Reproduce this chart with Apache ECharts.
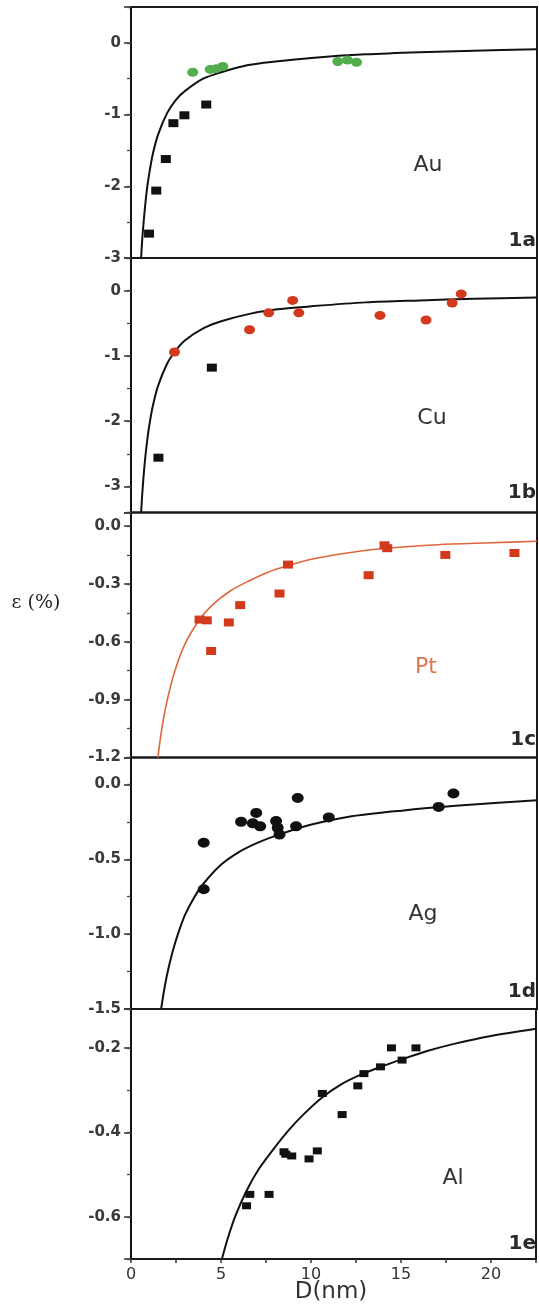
<!DOCTYPE html>
<html>
<head>
<meta charset="utf-8">
<script src="https://cdn.jsdelivr.net/npm/echarts@6/dist/echarts.min.js"></script>
<style>
  html, body { margin: 0; padding: 0; background: #ffffff; }
  #chart { width: 539px; height: 1309px; }
</style>
</head>
<body>
<div id="chart"></div>
<script>
// Lattice strain ε (%) versus particle size D (nm) for five metals.

// 1a — Au
const auSquares = [[1.0, -2.66], [1.4, -2.06], [1.93, -1.62], [2.35, -1.12], [2.96, -1.01], [4.17, -0.86]];
const auCircles = [[3.42, -0.41], [4.39, -0.37], [4.72, -0.36], [5.09, -0.33], [11.46, -0.26], [12.0, -0.24], [12.5, -0.27]];
const auFit = [[0.56, -3.0], [0.62, -2.75], [0.7, -2.5], [0.8, -2.23], [0.9, -2.01], [1.0, -1.84], [1.2, -1.56],
  [1.5, -1.28], [2.0, -0.98], [2.5, -0.79], [3.0, -0.67], [4.0, -0.50], [5.0, -0.41], [6.5, -0.31], [8.0, -0.26],
  [10.0, -0.21], [13.0, -0.16], [16.0, -0.13], [19.0, -0.11], [22.5, -0.09]];

// 1b — Cu
const cuSquares = [[1.52, -2.56], [4.48, -1.18]];
const cuCircles = [[2.41, -0.94], [6.57, -0.60], [7.63, -0.34], [8.96, -0.15], [9.3, -0.34], [13.8, -0.38],
  [16.35, -0.45], [17.8, -0.19], [18.3, -0.05]];
const cuFit = [[0.56, -3.4], [0.62, -3.13], [0.7, -2.83], [0.8, -2.53], [0.9, -2.29], [1.0, -2.09], [1.2, -1.78],
  [1.5, -1.46], [2.0, -1.12], [2.5, -0.91], [3.0, -0.76], [4.0, -0.58], [5.0, -0.47], [6.5, -0.36], [8.0, -0.29],
  [10.0, -0.24], [13.0, -0.18], [16.0, -0.15], [19.0, -0.125], [22.5, -0.106]];

// 1c — Pt
const ptSquares = [[3.8, -0.485], [4.2, -0.489], [4.44, -0.648], [5.42, -0.50], [6.05, -0.41], [8.23, -0.35],
  [8.7, -0.20], [13.17, -0.255], [14.05, -0.10], [14.2, -0.115], [17.42, -0.15], [21.25, -0.14]];
const ptFit = [[1.49, -1.2], [1.6, -1.12], [1.8, -1.0], [2.0, -0.905], [2.4, -0.76], [3.0, -0.61], [3.8, -0.485],
  [4.5, -0.41], [5.5, -0.337], [6.5, -0.286], [7.5, -0.243], [8.7, -0.205], [10.0, -0.172], [12.0, -0.14],
  [14.0, -0.117], [17.0, -0.097], [20.0, -0.087], [22.5, -0.079]];

// 1d — Ag
const agCircles = [[4.03, -0.39], [4.03, -0.70], [6.1, -0.25], [6.94, -0.19], [6.75, -0.26], [7.16, -0.28],
  [8.04, -0.245], [8.13, -0.29], [8.23, -0.335], [9.15, -0.28], [9.24, -0.09], [10.96, -0.22], [17.05, -0.15],
  [17.87, -0.06]];
const agFit = [[1.67, -1.5], [1.8, -1.40], [2.0, -1.27], [2.3, -1.12], [2.6, -1.0], [3.0, -0.87], [3.5, -0.755],
  [4.0, -0.665], [5.0, -0.535], [6.0, -0.45], [7.0, -0.39], [8.2, -0.335], [10.0, -0.268], [12.0, -0.217],
  [15.0, -0.175], [18.0, -0.143], [22.5, -0.105]];

// 1e — Al
const alSquares = [[6.42, -0.574], [6.6, -0.547], [7.67, -0.547], [8.5, -0.446], [8.6, -0.452], [8.93, -0.456],
  [9.89, -0.463], [10.35, -0.444], [10.63, -0.308], [11.73, -0.358], [12.6, -0.29], [12.94, -0.261],
  [13.86, -0.245], [14.47, -0.20], [15.06, -0.229], [15.83, -0.20]];
const alFit = [[5.05, -0.70], [5.4, -0.648], [5.8, -0.598], [6.4, -0.54], [7.1, -0.487], [8.0, -0.435],
  [8.8, -0.393], [9.6, -0.357], [10.6, -0.318], [11.7, -0.286], [12.8, -0.263], [14.0, -0.243], [15.0, -0.228],
  [16.5, -0.207], [18.0, -0.19], [20.0, -0.172], [22.5, -0.155]];

// axis ranges and tick labels
const xTickLabels = [0, 5, 10, 15, 20];
const metals = ['Au', 'Cu', 'Pt', 'Ag', 'Al'];
const panelTags = ['1a', '1b', '1c', '1d', '1e'];
const yRanges = [[-3, 0.5], [-3.4, 0.5], [-1.2, 0.07], [-1.5, 0.18], [-0.7, -0.108]];
const yTickLabels = [
  ['0', '-1', '-2', '-3'],
  ['0', '-1', '-2', '-3'],
  ['0.0', '-0.3', '-0.6', '-0.9', '-1.2'],
  ['0.0', '-0.5', '-1.0', '-1.5'],
  ['-0.2', '-0.4', '-0.6']
];
const yLabelSteps = [1, 1, 0.3, 0.5, 0.2];
const yMinorSteps = [0.5, 0.5, 0.15, 0.25, 0.1];

const BLACK = '#111111';
const GREEN = '#52ad4c';
const RED = '#d2391d';
const PT_LINE = '#e0653a';
const PT_TEXT = '#dc774c';
const SANS = '"DejaVu Sans", "Liberation Sans", sans-serif';

const plotLeft = 131;
const plotWidth = 406;
const panelTops = [7, 258, 512.5, 757.5, 1009];
const panelBottoms = [258, 512.5, 757.5, 1009, 1259];

const grids = panelTops.map((t, i) => ({
  left: plotLeft,
  width: plotWidth,
  top: t,
  height: panelBottoms[i] - t,
  show: true,
  borderColor: '#1a1a1a',
  borderWidth: 2,
  backgroundColor: 'transparent'
}));

const xAxes = grids.map((g, i) => {
  const last = i === grids.length - 1;
  return {
    type: 'value',
    gridIndex: i,
    min: 0,
    max: 22.5,
    interval: 2.5,
    splitLine: { show: false },
    axisLine: { show: last, lineStyle: { color: '#1a1a1a', width: 2 } },
    axisTick: { show: last, length: 4, lineStyle: { color: '#333', width: 1.5 } },
    axisLabel: {
      show: last,
      margin: 8,
      color: '#333',
      fontFamily: SANS,
      fontSize: 16,
      formatter: v => (xTickLabels.some(t => Math.abs(t - v) < 1e-6) ? String(Math.round(v)) : '')
    }
  };
});

// a step is usable as a fixed interval only when the range minimum sits on it
function onStep(min, step) {
  const k = min / step;
  return Math.abs(k - Math.round(k)) < 1e-6;
}

const yAxes = [];
yRanges.forEach((r, i) => {
  const step = yLabelSteps[i];
  const labels = yTickLabels[i];
  // labelled axis with the longer ticks
  const major = {
    type: 'value',
    gridIndex: i,
    position: 'left',
    offset: 0,
    min: r[0],
    max: r[1],
    splitLine: { show: false },
    axisLine: { show: true, onZero: false, lineStyle: { color: '#111', width: 2 } },
    axisTick: { show: true, length: 7, lineStyle: { color: '#333', width: 1.5 } },
    axisLabel: {
      margin: 10,
      color: '#3a3a3a',
      fontFamily: SANS,
      fontWeight: 'bold',
      fontSize: 15,
      formatter: v => {
        const hit = labels.find(t => Math.abs(parseFloat(t) - v) < 1e-6);
        return hit === undefined ? '' : hit;
      }
    }
  };
  if (onStep(r[0], step)) major.interval = step;
  else major.splitNumber = Math.round((r[1] - r[0]) / step);
  yAxes.push(major);

  // unlabelled axis carrying the short in-between ticks
  const minorStep = yMinorSteps[i];
  const minor = {
    type: 'value',
    gridIndex: i,
    position: 'left',
    offset: 0,
    min: r[0],
    max: r[1],
    splitLine: { show: false },
    axisLine: { show: false, onZero: false },
    axisTick: { show: true, length: 4, lineStyle: { color: '#444', width: 1.3 } },
    axisLabel: { show: false }
  };
  if (onStep(r[0], minorStep)) minor.interval = minorStep;
  else minor.splitNumber = Math.round((r[1] - r[0]) / minorStep);
  yAxes.push(minor);
});

function fitLine(data, idx, color, width) {
  return {
    type: 'line',
    xAxisIndex: idx,
    yAxisIndex: idx * 2,
    data: data,
    smooth: 0.3,
    showSymbol: false,
    symbol: 'none',
    silent: true,
    lineStyle: { color: color, width: width },
    z: 2
  };
}

function marks(data, idx, symbol, size, color) {
  return {
    type: 'scatter',
    xAxisIndex: idx,
    yAxisIndex: idx * 2,
    data: data,
    symbol: symbol,
    symbolSize: size,
    itemStyle: { color: color, opacity: 1 },
    z: 3
  };
}

const series = [
  fitLine(auFit, 0, BLACK, 2),
  marks(auSquares, 0, 'rect', [10, 8], BLACK),
  marks(auCircles, 0, 'circle', [11, 9], GREEN),

  fitLine(cuFit, 1, BLACK, 2),
  marks(cuSquares, 1, 'rect', [10, 8], BLACK),
  marks(cuCircles, 1, 'circle', [11, 9], RED),

  fitLine(ptFit, 2, PT_LINE, 1.6),
  marks(ptSquares, 2, 'rect', [10, 8], RED),

  fitLine(agFit, 3, BLACK, 2),
  marks(agCircles, 3, 'circle', [12, 10], BLACK),

  fitLine(alFit, 4, BLACK, 2),
  marks(alSquares, 4, 'rect', [9, 7], BLACK)
];

// metal names and panel tags inside each plot
const metalPos = [[428, 165], [432, 418], [426, 667], [423, 914], [453, 1178]];
const tagY = [241, 493, 740, 992, 1244];
const graphics = [];
metals.forEach((m, i) => {
  graphics.push({
    type: 'text',
    x: metalPos[i][0],
    y: metalPos[i][1],
    silent: true,
    style: {
      text: m,
      fill: m === 'Pt' ? PT_TEXT : '#333',
      font: '22px ' + SANS,
      textAlign: 'center',
      textVerticalAlign: 'middle'
    }
  });
  graphics.push({
    type: 'text',
    x: 536,
    y: tagY[i],
    silent: true,
    style: {
      text: panelTags[i],
      fill: '#2a2a2a',
      font: 'bold 20px ' + SANS,
      textAlign: 'right',
      textVerticalAlign: 'middle'
    }
  });
});
graphics.push({
  type: 'text',
  x: 36,
  y: 603,
  silent: true,
  style: {
    text: 'ε (%)',
    fill: '#222',
    font: '19px "DejaVu Serif", "Liberation Serif", serif',
    textAlign: 'center',
    textVerticalAlign: 'middle'
  }
});
graphics.push({
  type: 'text',
  x: 331,
  y: 1292,
  silent: true,
  style: {
    text: 'D(nm)',
    fill: '#333',
    font: '23px ' + SANS,
    textAlign: 'center',
    textVerticalAlign: 'middle'
  }
});

const chart = echarts.init(document.getElementById('chart'), null, { renderer: 'canvas' });
chart.setOption({
  animation: false,
  backgroundColor: '#ffffff',
  grid: grids,
  xAxis: xAxes,
  yAxis: yAxes,
  series: series,
  graphic: graphics
});
</script>
</body>
</html>
